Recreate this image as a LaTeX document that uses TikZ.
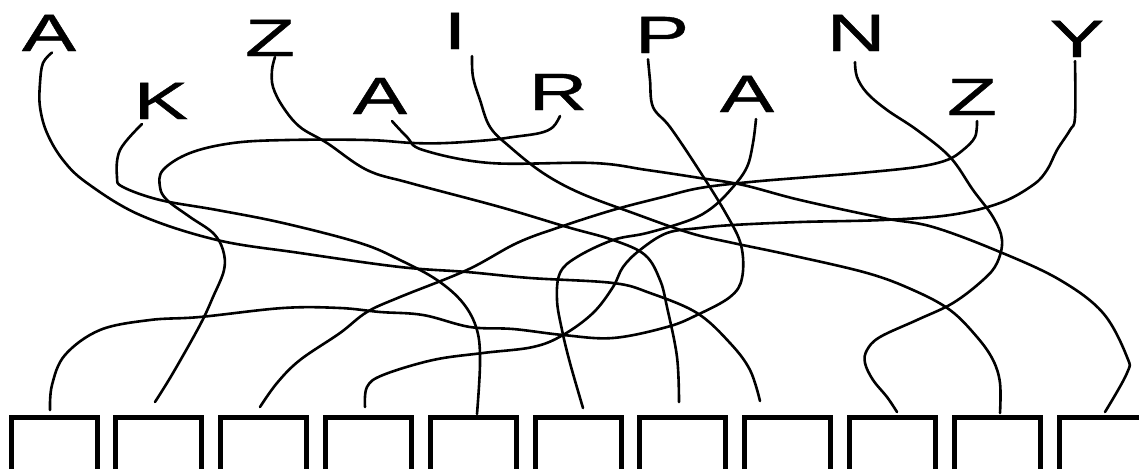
\documentclass[tikz,border=0pt]{standalone}
\usepackage{fontspec}
\setmainfont{Liberation Sans}
\newfontfamily\letfont[FakeBold=0.7]{Liberation Sans}
\usepackage{graphicx}
\newcommand{\widelet}[1]{\scalebox{1.55}[1]{#1}}
\tikzset{
  letter/.style={inner sep=0pt, outer sep=0pt, font=\letfont\fontsize{52.5}{52.5}\selectfont},
  boxnode/.style={draw, line width=5pt, minimum width=86pt, minimum height=54pt, inner sep=0pt, outer sep=0pt},
  wire/.style={line width=2.6pt, line cap=round, line join=round}
}
\begin{document}
\begin{tikzpicture}[x=1pt,y=-1pt]
\useasboundingbox (0,0) rectangle (1139,468);
\fill[white] (0,0) rectangle (1139,468);
% letters
\node[letter] (A1) at (49,33) {\widelet{A}};
\node[letter] (Z1) at (270,38) {\widelet{Z}};
\node[letter] (I) at (455,31) {\widelet{I}};
\node[letter] (P) at (662,35) {\widelet{P}};
\node[letter] (N) at (856,33) {\widelet{N}};
\node[letter] (Y) at (1077,39) {\widelet{Y}};
\node[letter] (K) at (161,101) {\widelet{K}};
\node[letter] (A2) at (380,96) {\widelet{A}};
\node[letter] (R) at (558,92) {\widelet{R}};
\node[letter] (A3) at (747,94) {\widelet{A}};
\node[letter] (Z2) at (972,97) {\widelet{Z}};
% boxes
\foreach \i/\cx in {1/54,2/158.8,3/263.6,4/368.4,5/473.2,6/578,7/682.8,8/787.6,9/892.4,10/997.2,11/1102}
  \node[boxnode] (b\i) at (\cx,444) {};
% wires
\draw[wire] plot[smooth,tension=0.6] coordinates {([shift={(-14,6.25)}]P.south) (650,80) (653,107) (670,127) (697,167) (725,212) (741,245) (742,278) (730,297) (697,315) (667,327) (613,338) (563,335) (513,329) (470,327) (423,315) (380,312) (340,308) (283,308) (200,317) (150,320) (100,330) (65,355) (52,385) ([shift={(-4,-7)}]b1.north)};
\draw[wire] plot[smooth,tension=0.6] coordinates {([shift={(3,1.5)}]A1.south) (43,63) (40,83) (40,107) (47,133) (63,160) (87,183) (140,215) (217,240) (300,253) (400,267) (467,272) (530,278) (613,283) (650,293) (697,313) (730,343) (750,370) ([shift={(-27.6,-16)}]b8.north)};
\draw[wire] plot[smooth,tension=0.6] coordinates {([shift={(5,1)}]Z1.south) (272,70) (273,87) (283,107) (300,127) (327,143) (367,170) (410,183) (500,207) (567,227) (613,240) (645,255) (660,280) (667,307) (677,357) ([shift={(-3.8,-15)}]b7.north)};
\draw[wire] plot[smooth,tension=0.6] coordinates {([shift={(-19,5)}]K.south) (120,150) (117,177) (123,187) (160,200) (217,210) (283,223) (360,243) (400,260) (437,280) (463,303) (477,330) (480,363) ([shift={(3.8,-3)}]b5.north)};
\draw[wire] plot[smooth,tension=0.6] coordinates {([shift={(12,7)}]A2.south) (407,137) (423,150) (490,163) (593,163) (647,170) (700,178) (743,185) (800,200) (883,218) (933,227) (1000,252) (1060,280) (1103,313) (1127,357) (1127,373) ([shift={(3,-5)}]b11.north)};
\draw[wire] plot[smooth,tension=0.6] coordinates {([shift={(17,7)}]I.south) (473,77) (480,100) (490,127) (510,147) (543,173) (580,193) (633,213) (690,233) (733,243) (790,255) (867,273) (913,290) (950,310) (977,337) (993,360) (1000,383) ([shift={(2.8,-4)}]b10.north)};
\draw[wire] plot[smooth,tension=0.6] coordinates {([shift={(2,6)}]R.south) (553,127) (540,133) (513,137) (490,140) (447,143) (413,143) (367,140) (287,140) (233,143) (190,153) (163,170) (160,187) (167,200) (190,217) (213,233) (223,250) (224,270) (213,297) (200,325) (173,373) ([shift={(-3.8,-15)}]b2.north)};
\draw[wire] plot[smooth,tension=0.6] coordinates {([shift={(9,7)}]A3.south) (753,143) (747,167) (733,187) (713,207) (690,220) (647,233) (613,240) (577,257) (560,273) (557,300) (562,330) (570,363) ([shift={(5,-9)}]b6.north)};
\draw[wire] plot[smooth,tension=0.6] coordinates {([shift={(-1,11)}]N.south) (857,77) (867,93) (887,110) (917,130) (950,157) (973,190) (993,217) (1002,240) (997,263) (983,280) (953,303) (917,320) (880,337) (867,350) (865,363) (873,380) (887,397) ([shift={(4.6,-5)}]b9.north)};
\draw[wire] plot[smooth,tension=0.6] coordinates {([shift={(5,6)}]Z2.south) (975,137) (963,150) (947,160) (917,167) (860,173) (810,177) (750,182) (700,188) (663,197) (613,210) (560,227) (517,243) (467,270) (400,297) (367,312) (340,333) (300,360) (277,383) ([shift={(-3.6,-10)}]b3.north)};
\draw[wire] plot[smooth,tension=0.6] coordinates {([shift={(-2,4)}]Y.south) (1075,117) (1070,130) (1057,150) (1047,170) (1033,185) (1000,203) (950,215) (883,220) (800,222) (733,225) (700,228) (667,233) (640,250) (623,267) (613,287) (593,313) (563,335) (533,347) (483,353) (433,360) (383,375) (367,387) ([shift={(-3.4,-10)}]b4.north)};
\end{tikzpicture}
\end{document}
